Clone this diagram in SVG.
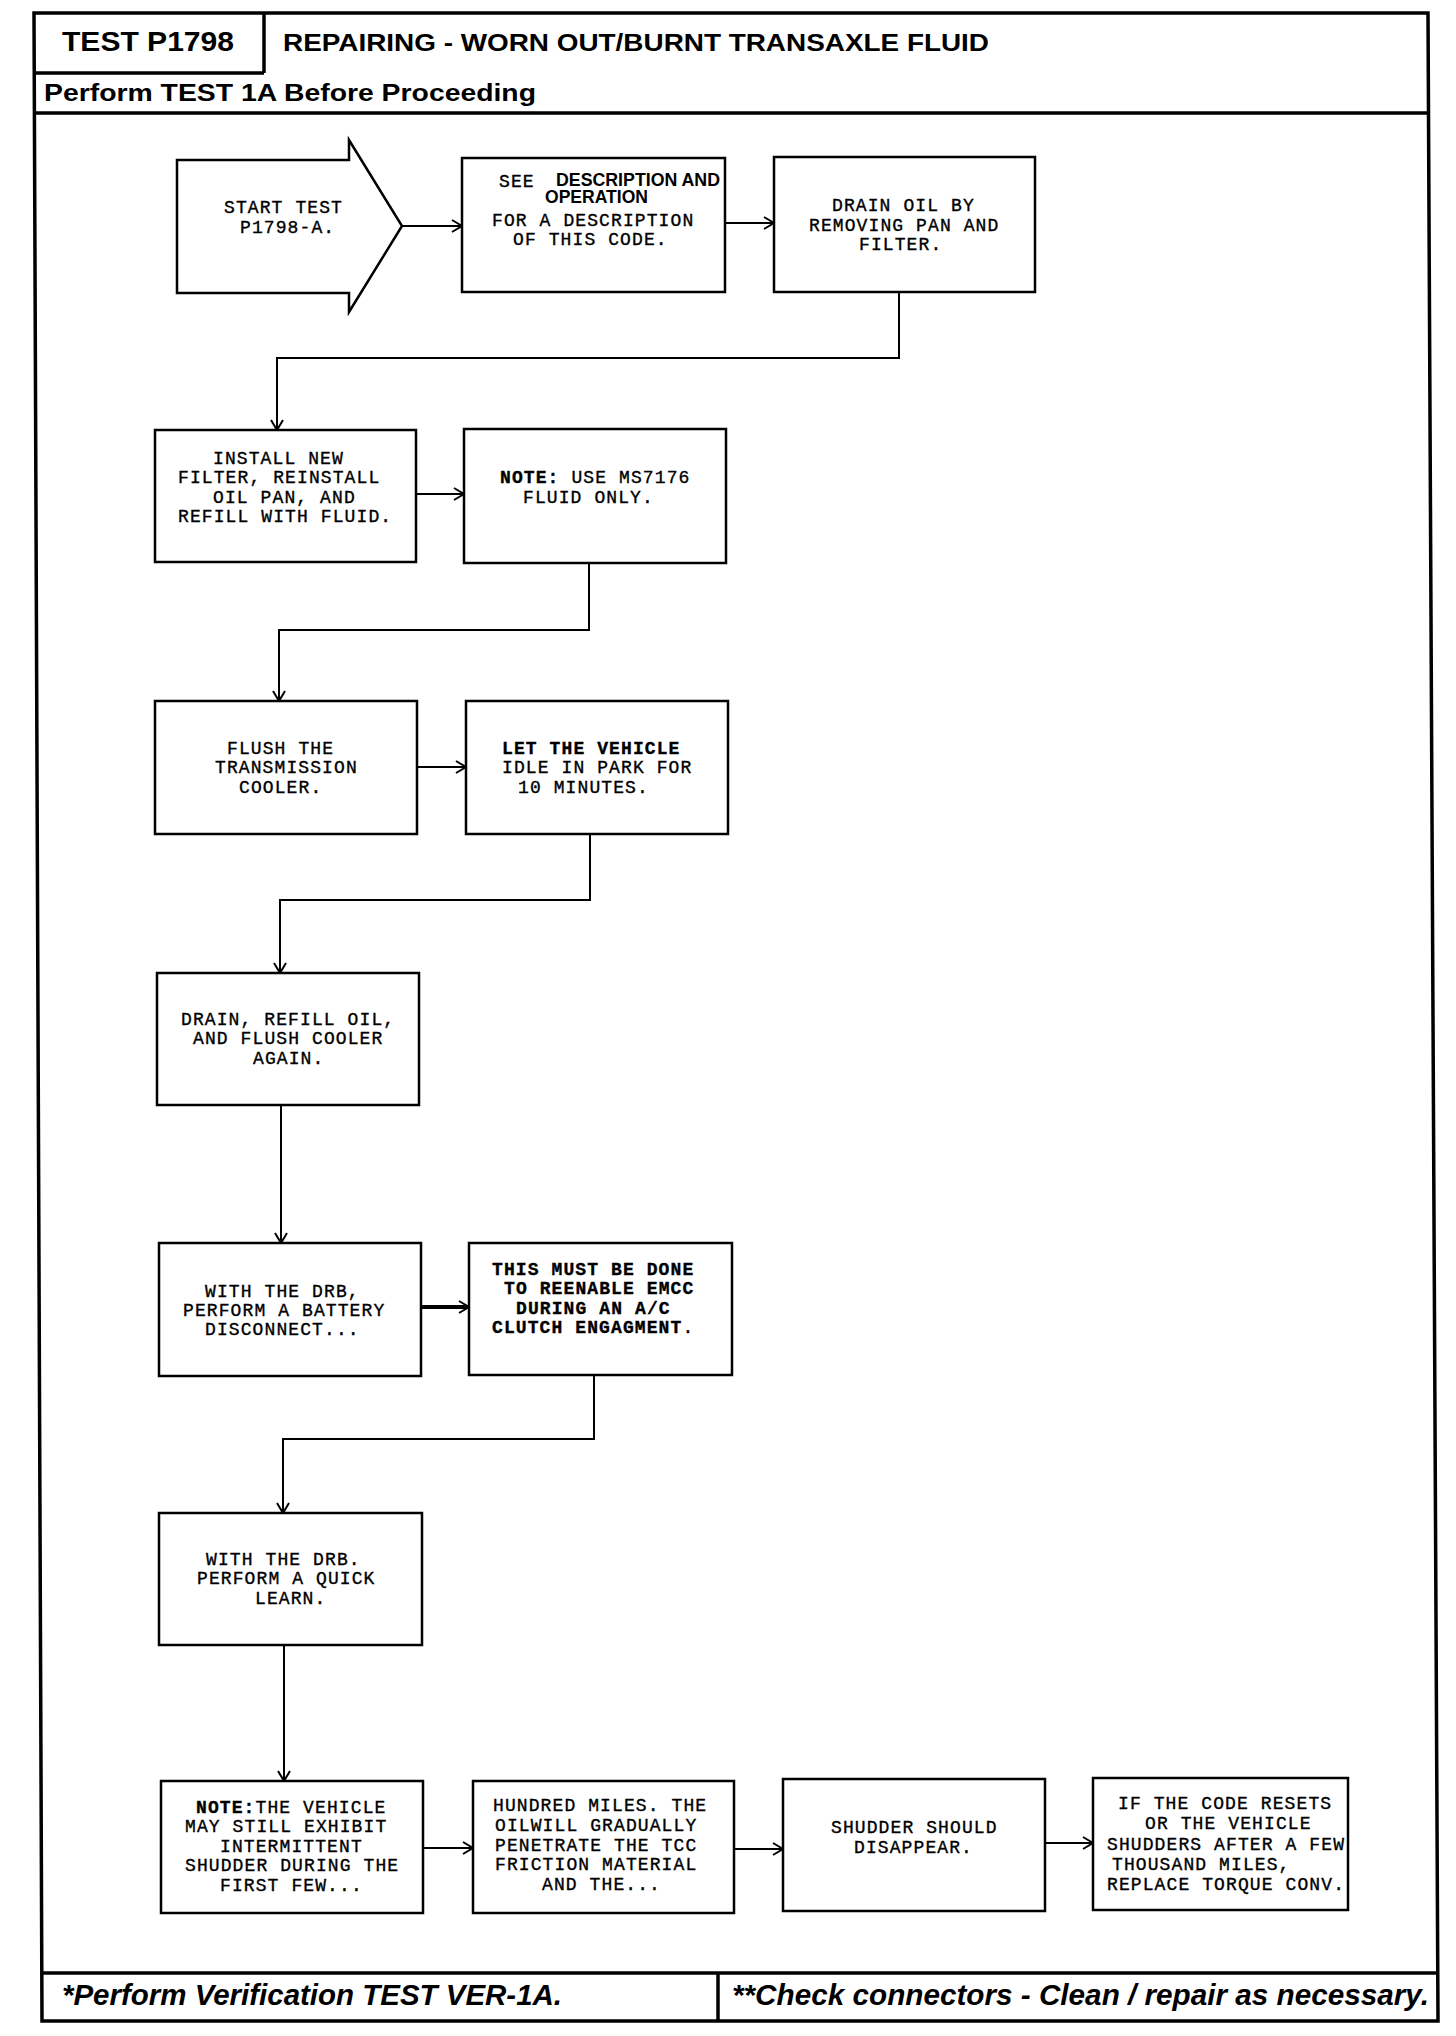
<svg xmlns="http://www.w3.org/2000/svg" width="1456" height="2036" viewBox="0 0 1456 2036">
<style>
.box{fill:#fff;stroke:#000;stroke-width:2.5}
.t{font-family:"Liberation Mono","Courier New",monospace;font-size:18px;letter-spacing:1.1px;fill:#000;stroke:#000;stroke-width:0.35}
.b{font-weight:bold}
.s{font-family:"Liberation Sans",Arial,sans-serif;font-weight:bold;letter-spacing:0;stroke-width:0}
.c{fill:none;stroke:#000;stroke-width:2}
.ck{fill:none;stroke:#000;stroke-width:4}
.fr{fill:none;stroke:#000;stroke-width:3.5}
.hd{font-family:"Liberation Sans",Arial,sans-serif;font-weight:bold;fill:#000}
.ft{font-family:"Liberation Sans",Arial,sans-serif;font-weight:bold;font-style:italic;fill:#000}
</style>
<defs>
<marker id="ah" markerUnits="userSpaceOnUse" markerWidth="14" markerHeight="16" refX="11" refY="7" orient="auto">
<path d="M1,1 L11,7 L1,13" fill="none" stroke="#000" stroke-width="2"/>
</marker>
</defs>

<g id="frame">
<path class="fr" d="M34,13 L1428,13 L1438,2021 L42,2021 Z"/>
<line class="fr" x1="34" y1="113" x2="1429" y2="113"/>
<line class="fr" x1="34" y1="73" x2="264" y2="73"/>
<line class="fr" x1="264" y1="13" x2="264" y2="73"/>
<line class="fr" x1="42" y1="1973" x2="1437" y2="1973"/>
<line class="fr" x1="718" y1="1973" x2="718" y2="2021"/>
<text class="hd" x="62" y="51" font-size="28" textLength="172" lengthAdjust="spacingAndGlyphs">TEST P1798</text>
<text class="hd" x="283" y="51" font-size="23" textLength="706" lengthAdjust="spacingAndGlyphs">REPAIRING - WORN OUT/BURNT TRANSAXLE FLUID</text>
<text class="hd" x="44" y="101" font-size="23" textLength="492" lengthAdjust="spacingAndGlyphs">Perform TEST 1A Before Proceeding</text>
<text class="ft" x="62" y="2005" font-size="29" textLength="500" lengthAdjust="spacingAndGlyphs">*Perform Verification TEST VER-1A.</text>
<text class="ft" x="732" y="2005" font-size="29" textLength="697" lengthAdjust="spacingAndGlyphs">**Check connectors - Clean / repair as necessary.</text>
</g>

<g id="connectors">
<line class="c" x1="402" y1="226" x2="462" y2="226" marker-end="url(#ah)"/>
<line class="c" x1="725" y1="223" x2="774" y2="223" marker-end="url(#ah)"/>
<polyline class="c" points="899,292 899,358 277,358 277,430" marker-end="url(#ah)"/>
<line class="c" x1="416" y1="494" x2="464" y2="494" marker-end="url(#ah)"/>
<polyline class="c" points="589,563 589,630 279,630 279,701" marker-end="url(#ah)"/>
<line class="c" x1="417" y1="767" x2="466" y2="767" marker-end="url(#ah)"/>
<polyline class="c" points="590,834 590,900 280,900 280,973" marker-end="url(#ah)"/>
<line class="c" x1="281" y1="1105" x2="281" y2="1243" marker-end="url(#ah)"/>
<line class="ck" x1="421" y1="1307" x2="469" y2="1307" marker-end="url(#ah)"/>
<polyline class="c" points="594,1375 594,1439 283,1439 283,1513" marker-end="url(#ah)"/>
<line class="c" x1="284" y1="1645" x2="284" y2="1781" marker-end="url(#ah)"/>
<line class="c" x1="423" y1="1848" x2="473" y2="1848" marker-end="url(#ah)"/>
<line class="c" x1="734" y1="1849" x2="783" y2="1849" marker-end="url(#ah)"/>
<line class="c" x1="1045" y1="1843" x2="1093" y2="1843" marker-end="url(#ah)"/>
</g>

<g id="start">
<polygon class="box" points="177,160 349,160 349,140 402,226 349,312 349,293 177,293"/>
<text class="t" x="224" y="213">START TEST</text>
<text class="t" x="240" y="233">P1798-A.</text>
</g>

<g id="desc">
<rect class="box" x="462" y="158" width="263" height="134"/>
<text class="t" x="499" y="187">SEE</text>
<text class="t s" x="556" y="186" font-size="15" textLength="164" lengthAdjust="spacingAndGlyphs">DESCRIPTION AND</text>
<text class="t s" x="545" y="203" font-size="15" textLength="103" lengthAdjust="spacingAndGlyphs">OPERATION</text>
<text class="t" x="492" y="226">FOR A DESCRIPTION</text>
<text class="t" x="513" y="245">OF THIS CODE.</text>
</g>

<g id="drain">
<rect class="box" x="774" y="157" width="261" height="135"/>
<text class="t" x="832" y="211">DRAIN OIL BY</text>
<text class="t" x="809" y="231">REMOVING PAN AND</text>
<text class="t" x="859" y="250">FILTER.</text>
</g>

<g id="install">
<rect class="box" x="155" y="430" width="261" height="132"/>
<text class="t" x="213" y="464">INSTALL NEW</text>
<text class="t" x="178" y="483">FILTER, REINSTALL</text>
<text class="t" x="213" y="503">OIL PAN, AND</text>
<text class="t" x="178" y="522">REFILL WITH FLUID.</text>
</g>

<g id="note1">
<rect class="box" x="464" y="429" width="262" height="134"/>
<text class="t" x="500" y="483"><tspan class="b">NOTE:</tspan> USE MS7176</text>
<text class="t" x="523" y="503">FLUID ONLY.</text>
</g>

<g id="flush">
<rect class="box" x="155" y="701" width="262" height="133"/>
<text class="t" x="227" y="754">FLUSH THE</text>
<text class="t" x="215" y="773">TRANSMISSION</text>
<text class="t" x="239" y="793">COOLER.</text>
</g>

<g id="idle">
<rect class="box" x="466" y="701" width="262" height="133"/>
<text class="t b" x="502" y="754">LET THE VEHICLE</text>
<text class="t" x="502" y="773">IDLE IN PARK FOR</text>
<text class="t" x="518" y="793">10 MINUTES.</text>
</g>

<g id="drain2">
<rect class="box" x="157" y="973" width="262" height="132"/>
<text class="t" x="181" y="1025">DRAIN, REFILL OIL,</text>
<text class="t" x="193" y="1044">AND FLUSH COOLER</text>
<text class="t" x="253" y="1064">AGAIN.</text>
</g>

<g id="battery">
<rect class="box" x="159" y="1243" width="262" height="133"/>
<text class="t" x="205" y="1297">WITH THE DRB,</text>
<text class="t" x="183" y="1316">PERFORM A BATTERY</text>
<text class="t" x="205" y="1335">DISCONNECT...</text>
</g>

<g id="reenable">
<rect class="box" x="469" y="1243" width="263" height="132"/>
<text class="t b" x="492" y="1275">THIS MUST BE DONE</text>
<text class="t b" x="504" y="1294">TO REENABLE EMCC</text>
<text class="t b" x="516" y="1314">DURING AN A/C</text>
<text class="t" x="492" y="1333"><tspan class="b">CLUTCH ENGAGMENT</tspan>.</text>
</g>

<g id="quicklearn">
<rect class="box" x="159" y="1513" width="263" height="132"/>
<text class="t" x="206" y="1565">WITH THE DRB.</text>
<text class="t" x="197" y="1584">PERFORM A QUICK</text>
<text class="t" x="255" y="1604">LEARN.</text>
</g>

<g id="note2">
<rect class="box" x="161" y="1781" width="262" height="132"/>
<text class="t" x="196" y="1813"><tspan class="b">NOTE:</tspan>THE VEHICLE</text>
<text class="t" x="185" y="1832">MAY STILL EXHIBIT</text>
<text class="t" x="220" y="1852">INTERMITTENT</text>
<text class="t" x="185" y="1871">SHUDDER DURING THE</text>
<text class="t" x="220" y="1891">FIRST FEW...</text>
</g>

<g id="hundred">
<rect class="box" x="473" y="1781" width="261" height="132"/>
<text class="t" x="493" y="1811">HUNDRED MILES. THE</text>
<text class="t" x="495" y="1831">OILWILL GRADUALLY</text>
<text class="t" x="495" y="1851">PENETRATE THE TCC</text>
<text class="t" x="495" y="1870">FRICTION MATERIAL</text>
<text class="t" x="542" y="1890">AND THE...</text>
</g>

<g id="disappear">
<rect class="box" x="783" y="1779" width="262" height="132"/>
<text class="t" x="831" y="1833">SHUDDER SHOULD</text>
<text class="t" x="854" y="1853">DISAPPEAR.</text>
</g>

<g id="reset">
<rect class="box" x="1093" y="1778" width="255" height="132"/>
<text class="t" x="1118" y="1809">IF THE CODE RESETS</text>
<text class="t" x="1145" y="1829">OR THE VEHICLE</text>
<text class="t" x="1107" y="1850">SHUDDERS AFTER A FEW</text>
<text class="t" x="1112" y="1870">THOUSAND MILES,</text>
<text class="t" x="1107" y="1890">REPLACE TORQUE CONV.</text>
</g>
</svg>
